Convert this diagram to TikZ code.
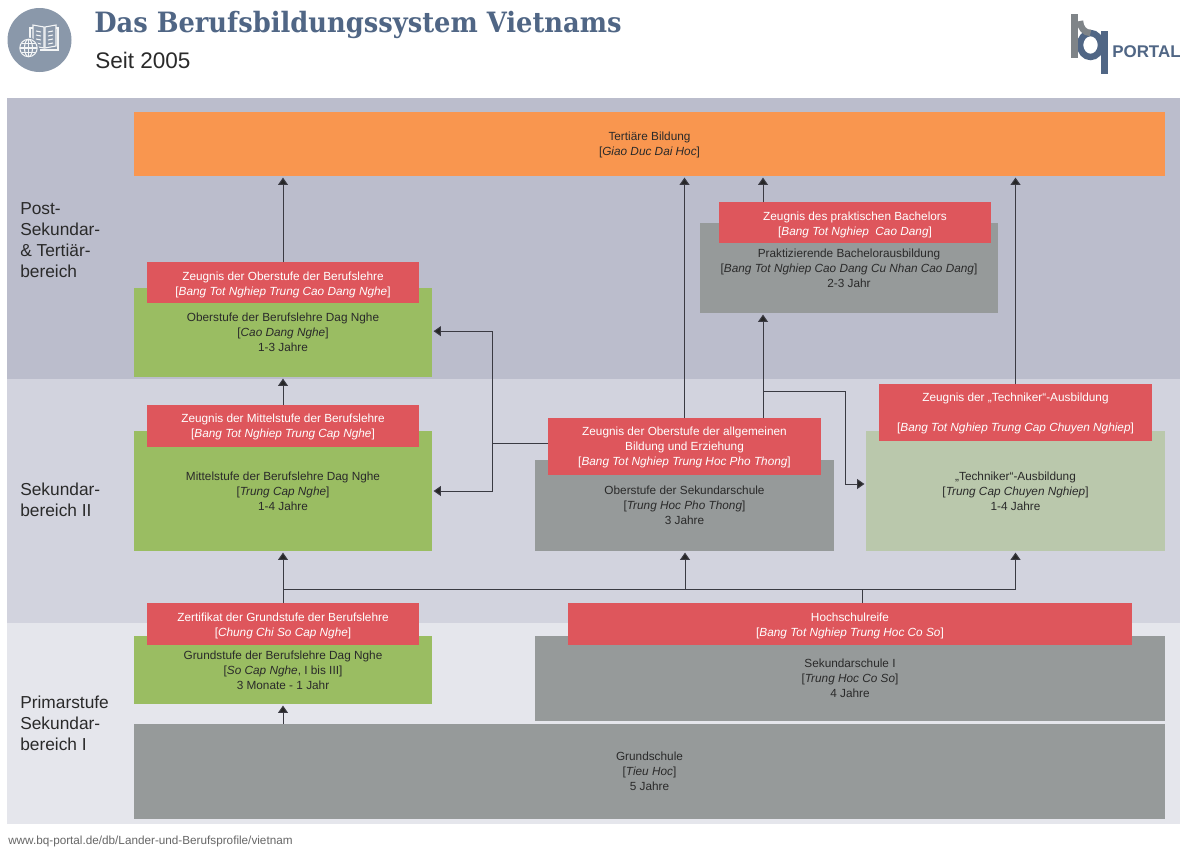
\documentclass[tikz,border=0pt]{standalone}
\usepackage{fontspec}
\setmainfont{Liberation Sans}
\newfontfamily\titlefont[FakeStretch=0.92]{DejaVu Serif}
\usetikzlibrary{arrows.meta}
\definecolor{bandA}{HTML}{BBBDCC}
\definecolor{bandB}{HTML}{D2D3DE}
\definecolor{bandC}{HTML}{E5E6EC}
\definecolor{orangeb}{HTML}{F9964F}
\definecolor{greenb}{HTML}{9ABD62}
\definecolor{paleb}{HTML}{BAC8AC}
\definecolor{greyb}{HTML}{969A9A}
\definecolor{redb}{HTML}{DE565C}
\definecolor{titleblue}{HTML}{506685}
\definecolor{iconb}{HTML}{8A98AA}
\definecolor{lineb}{HTML}{3A3A42}
\definecolor{txt}{HTML}{2A2A2A}
\definecolor{logog}{HTML}{7F8488}
\tikzset{
 x=0.75pt,y=-0.75pt,
 band/.style={fill=#1,draw=none,inner sep=0,outer sep=0},
 box/.style={fill=#1,draw=none,inner sep=0,outer sep=0,align=center,text=txt,font=\fontsize{8.85}{11.2}\selectfont},
 cert/.style={fill=redb,draw=none,inner sep=0,outer sep=0,align=center,text=white,font=\fontsize{8.85}{11.2}\selectfont},
 side/.style={anchor=north west,align=left,text=txt,inner sep=0,font=\fontsize{13}{15.75}\selectfont},
 conn/.style={draw=lineb,line width=0.75pt},
 arr/.style={conn,shorten >=1.2pt,-{Triangle[length=5.5pt,width=7.5pt,fill=black!85]}},
}
\newcommand{\rbox}[6]{\node[#1,minimum width=#4*0.75pt-#2*0.75pt,minimum height=#5*0.75pt-#3*0.75pt,anchor=north west] (#6) at (#2,#3)}
% moves the lines of a node down: the first baseline lies #1 below the top
\newcommand{\dn}[1]{\mbox{}\\[\dimexpr#1-11.2pt\relax]}
\begin{document}
\begin{tikzpicture}
\useasboundingbox (0,0) rectangle (1180,847);
\fill[white] (0,0) rectangle (1180,847);
% bands
\rbox{band=bandA}{7}{98}{1180}{379}{ba} {};
\rbox{band=bandB}{7}{379}{1180}{623}{bb} {};
\rbox{band=bandC}{7}{623}{1180}{824}{bc} {};
% connector coordinates
\coordinate (j1) at (492,443);
\coordinate (j2) at (763,391);
\coordinate (j3) at (845,391);
\coordinate (b1) at (283,589);
\coordinate (b2) at (862,589);
\coordinate (b3) at (685,589);
% boxes
\rbox{box=orangeb}{134}{112}{1165}{176}{tert} {\dn{8.5pt}Tertiäre Bildung\\{}[\textit{Giao Duc Dai Hoc}]};
\rbox{box=greyb}{700}{223}{998}{313}{prak} {Praktizierende Bachelorausbildung\\{}[\textit{Bang Tot Nghiep Cao Dang Cu Nhan Cao Dang}]\\2-3 Jahr};
\rbox{box=greenb}{134}{288}{432}{377}{ober} {Oberstufe der Berufslehre Dag Nghe\\{}[\textit{Cao Dang Nghe}]\\1-3 Jahre};
\rbox{box=greenb}{134}{431}{432}{551}{mittel} {Mittelstufe der Berufslehre Dag Nghe\\{}[\textit{Trung Cap Nghe}]\\1-4 Jahre};
\rbox{box=greyb}{535}{460}{834}{551}{sek} {Oberstufe der Sekundarschule\\{}[\textit{Trung Hoc Pho Thong}]\\3 Jahre};
\rbox{box=paleb}{866}{431}{1165}{551}{tech} {„Techniker“-Ausbildung\\{}[\textit{Trung Cap Chuyen Nghiep}]\\1-4 Jahre};
\rbox{box=greenb}{134}{636}{432}{704}{grund} {Grundstufe der Berufslehre Dag Nghe\\{}[\textit{So Cap Nghe}, I bis III]\\3 Monate - 1 Jahr};
\rbox{box=greyb}{535}{636}{1165}{721}{seki} {Sekundarschule I\\{}[\textit{Trung Hoc Co So}]\\4 Jahre};
\rbox{box=greyb}{134}{724}{1165}{819}{gs} {Grundschule\\{}[\textit{Tieu Hoc}]\\5 Jahre};
% certificates
\rbox{cert}{719}{202}{991}{243}{c1} {\dn{9.5pt}Zeugnis des praktischen Bachelors\\{}[\textit{Bang Tot Nghiep\ \ Cao Dang}]};
\rbox{cert}{147}{262}{419}{303}{c2} {\dn{9.5pt}Zeugnis der Oberstufe der Berufslehre\\{}[\textit{Bang Tot Nghiep Trung Cao Dang Nghe}]};
\rbox{cert}{147}{405}{419}{447}{c3} {\dn{8pt}Zeugnis der Mittelstufe der Berufslehre\\{}[\textit{Bang Tot Nghiep Trung Cap Nghe}]};
\rbox{cert}{548}{418}{821}{475}{c4} {\dn{8pt}Zeugnis der Oberstufe der allgemeinen\\Bildung und Erziehung\\{}[\textit{Bang Tot Nghiep Trung Hoc Pho Thong}]};
\rbox{cert}{879}{384}{1152}{441}{c5} {\dn{8pt}Zeugnis der „Techniker“-Ausbildung\\[11.2pt]{}[\textit{Bang Tot Nghiep Trung Cap Chuyen Nghiep}]};
\rbox{cert}{147}{603}{419}{645}{c6} {\dn{9.5pt}Zertifikat der Grundstufe der Berufslehre\\{}[\textit{Chung Chi So Cap Nghe}]};
\rbox{cert}{568}{603}{1132}{645}{c7} {\dn{9.5pt}Hochschulreife\\{}[\textit{Bang Tot Nghiep Trung Hoc Co So}]};
% connectors
\draw[arr] (c2.north) -- (tert.south -| c2.north);
\draw[arr] (c4.north) -- (tert.south -| c4.north);
\draw[arr] (c1.north -| j2) -- (tert.south -| j2);
\draw[arr] (c5.north) -- (tert.south -| c5.north);
\draw[arr] (c3.north) -- (ober.south);
\draw[arr] (c4.north -| j2) -- (prak.south -| j2);
\draw[conn] (c4.west |- j1) -- (j1);
\draw[arr] (j1) |- ([yshift=1pt]ober.east);
\draw[arr] (j1) |- (mittel.east);
\draw[conn] (j2) -- (j3);
\draw[arr] (j3) |- ([yshift=5.25pt]tech.west);
\draw[arr] (c6.north) -- (mittel.south);
\draw[conn] (c6.north |- b1) -- (b2);
\draw[arr] (b3) -- (sek.south -| b3);
\draw[arr] (b2) -| (tech.south);
\draw[conn] (c7.north -| b2) -- (b2);
\draw[arr] (gs.north -| grund.south) -- (grund.south);
% side labels
\node[side] (s1) at (20,202) {Post-\\Sekundar-\\\&~Tertiär-\\bereich};
\node[side] (s2) at (20,483) {Sekundar-\\bereich II};
\node[side] (s3) at (20,696) {Primarstufe\\Sekundar-\\bereich I};
% header icon
\fill[iconb] (39.5,40) circle[radius=32];
\begin{scope}[draw=white!90!iconb,line width=0.8pt]
 \draw (30,44) -- (30,28) -- (33,28);
 \draw (33,25) -- (44,27) -- (44,48) -- (33,46) -- cycle;
 \draw (56,25) -- (45,27) -- (45,48) -- (56,46) -- cycle;
 \draw (56,28) -- (58,28) -- (58,50) -- (40,50);
 \foreach \y in {31,35,39,43}{\draw (36,\y) -- (41,\y+1); \draw (48,\y+1) -- (53,\y);}
 \fill[iconb] (28.5,48) circle[radius=10.5];
 \draw (28.5,48) circle[radius=8.7];
 \draw (28.5,48) ellipse[x radius=4,y radius=8.7];
 \draw (19.8,48) -- (37.2,48);
 \draw (21.5,43.5) -- (35.5,43.5);
 \draw (21.5,52.5) -- (35.5,52.5);
 \draw (28.5,39.3) -- (28.5,56.7);
\end{scope}
\node[anchor=west,inner sep=0,text=titleblue,font=\titlefont\bfseries\fontsize{21}{24}\selectfont] (title) at (94,24.5) {Das Berufsbildungssystem Vietnams};
\node[anchor=west,inner sep=0,text=txt,font=\fontsize{16.9}{20}\selectfont] (sub) at (95,60) {Seit 2005};
\node[anchor=west,inner sep=0,text=black!60,font=\fontsize{8.8}{10}\selectfont] (url) at (8,841) {www.bq-portal.de/db/Lander-und-Berufsprofile/vietnam};
% logo
\draw[titleblue,line width=4.8pt] (1090.5,45) ellipse[x radius=10.5,y radius=12];
\draw[logog,line width=4.8pt] (1090.5,33) arc[start angle=90,end angle=180,x radius=10.5,y radius=12];
\fill[logog] (1071,14) rectangle (1078,58);
\fill[titleblue] (1101,31) rectangle (1107.5,74);
\node[anchor=west,inner sep=0,text=titleblue,font=\bfseries\fontsize{12.7}{14}\selectfont] (logo) at (1112,51.5) {PORTAL};
\end{tikzpicture}
\end{document}
